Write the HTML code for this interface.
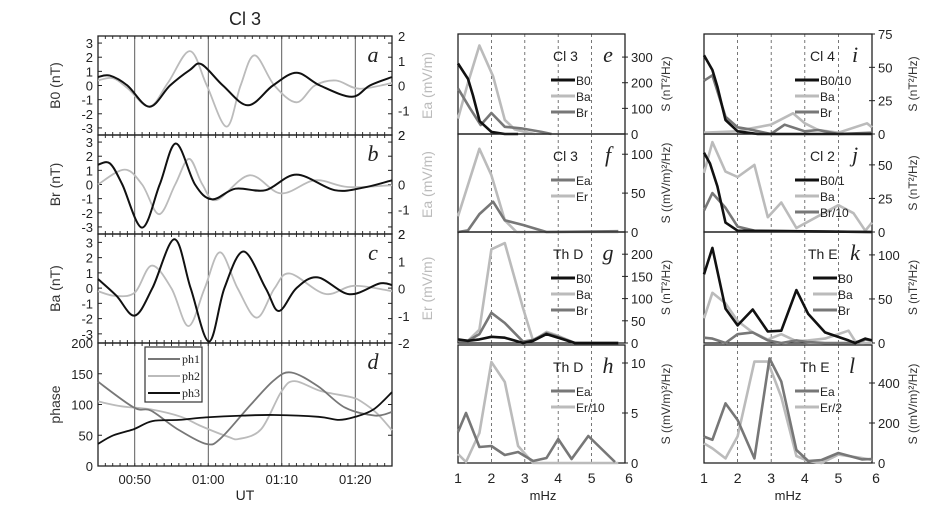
<!DOCTYPE html>
<html><head><meta charset="utf-8"><style>
body{margin:0;background:#fff}
svg{display:block;font-family:"Liberation Sans",sans-serif}
.it{font-family:"Liberation Serif",serif;font-style:italic;font-size:22px}
</style></head><body>
<svg id="fig" width="946" height="509" viewBox="0 0 946 509"></svg>
<script>
// ---- time series data (time in minutes after 00:00) ----
const tA = [45,46.6,49,52,54.8,57.5,59.1,62,65.4,68.8,72,75.2,79.5,82,85];
const b0A = [0.6,0.7,0,-1.5,0,1.1,1.5,0,-1.4,0,0.9,0,-0.8,0,0.6];
const tEaA = [45,47,49,52,54.5,57.5,59.8,62.5,64.4,66.3,69,72,74.5,77.4,80.5,85];
const eaA = [0.2,0.3,-0.1,-0.85,0.1,1.39,0,-1.66,0,1.22,0,-0.68,0,0.2,-0.13,0.1];
const tB = [45,46.6,48.3,51,53.4,55.6,58.2,60.5,63.7,67.8,72,77.2,81.3,85];
const brB = [1.4,1.5,0,-3.05,0,2.9,0,-1.05,-0.3,-0.4,0.7,-0.4,-0.2,0.3];
const tEaB = [45,48.6,51,53.3,55.5,57.4,59.2,61.1,65.6,69.9,74.5,79,85];
const eaB = [0,0.6,0,-1.2,0,1.04,0,-0.63,0.37,-0.36,0.17,-0.1,-0.03];
const tC = [45,47.5,50,52.4,55.4,57.6,60.1,62.2,64.8,67.8,69.6,72,74.9,79.2,83.3,85];
const baC = [0.6,-0.5,-1.8,0,3.2,0,-3.5,0,2.4,0,-1.5,0,0.7,-0.4,0.3,0.2];
const tErC = [45,47.3,50,52.3,55,57.3,59.5,61.6,64,66.6,69,71.1,75.9,79.8,85];
const erC = [-0.1,-0.27,-0.15,0.84,0,-1.38,0,1.33,0,-1.07,0,0.55,-0.2,0.1,-0.1];
const tPh1 = [45,49.9,52.2,55.8,59.7,61.7,65.8,69,71.3,74.9,78.6,82.7,85];
const ph1 = [137,95,90,60,36,45,100,140,152,130,95,82,88];
const tPh2 = [45,48.2,52.2,56.3,59,62.6,64.2,67.2,69.9,71.7,75.3,79.4,80.8,83,85];
const ph2 = [105,97,92,80,65,48,44,60,120,138,122,112,105,85,58];
const tPh3 = [45,47.1,49.9,52.4,56,59.7,64.7,69,75,77.8,80,82.5,85];
const ph3 = [36,50,60,73,75,79,82,83,80,75,80,92,120];
// ---- spectra (mHz, value) ----
const fE_B0=[1,1.3,1.45,1.65,2.0,2.4,2.8]; const vE_B0=[275,215,150,50,8,0,0];
const fE_Ba=[1,1.3,1.64,2.05,2.4,2.7,3.0,3.3]; const vE_Ba=[60,200,345,225,55,18,8,0];
const fE_Br=[1,1.35,1.68,2.0,2.4,2.9,3.5,3.8]; const vE_Br=[178,102,35,82,28,22,8,0];
const fF_Er=[1,1.64,2.0,2.4,2.75,3.3,5.8]; const vF_Er=[20,107,73,15,0,0,0];
const fF_Ea=[1,1.3,1.64,2.05,2.4,2.95,3.65,5.8]; const vF_Ea=[0,2,23,39,15,9,0,1];
const fG=[1,1.3,1.64,2.0,2.4,2.95,3.25,3.65,4.0,4.5,5.8];
const vG_Ba=[7,5,30,211,225,78,5,25,16,0,0];
const vG_Br=[5,5,20,68,45,3,7,22,14,0,0];
const vG_B0=[8,5,8,14,12,0,5,20,12,0,0];
const fH_Ea=[1,1.24,1.64,2.0,2.4,2.8,3.25,3.65,4.0,4.4,4.9,5.7]; const vH_Ea=[3.1,5.0,1.6,1.7,0.8,1.1,0.2,0.5,2.4,0.4,2.7,0.1];
const fH_Er=[1,1.24,1.64,2.0,2.4,2.8,3.25,5.8]; const vH_Er=[0.9,0.1,3.0,10.1,8.1,1.7,0,0];
const fI_B0=[1,1.25,1.4,1.64,2.0,2.6,6]; const vI_B0=[59,48,35.5,10.5,2,0,0];
const fI_Ba=[1,2.0,2.35,2.99,3.65,4.0,4.4,5.0,5.85,6]; const vI_Ba=[1,2,4,7,15.5,8,3,1,8,5];
const fI_Br=[1,1.25,1.64,2.0,2.35,2.99,3.4,4.0,4.4,5.0,6]; const vI_Br=[40,44,13,5,3.5,0,7,2,3,0,1];
const fJ_B0=[1,1.18,1.4,1.64,2.0,6]; const vJ_B0=[59,51,34,7,1,0];
const fJ_Ba=[1,1.25,1.64,2.0,2.5,2.9,3.3,3.75,5.0,5.45,5.8,6]; const vJ_Ba=[44,67,45,41,50,11,22,3,20,14,1,7];
const fJ_Br=[1,1.25,1.64,2.0,2.5,6]; const vJ_Br=[16,29,18,4,1,0];
const fK=[1,1.25,1.64,2.0,2.45,2.9,3.3,3.75,4.1,4.6,5.3,5.5,5.8,6];
const vK_B0=[78,108,39,20,38,13,14,60,33,12,3,0,5,3];
const vK_Ba=[28,57,45,25,12,4,10,2,3,5,14,2,0,0];
const vK_Br=[6,5,0,10,12,3,0,3,1,0,0,0,4,3];
const fL=[1,1.25,1.64,2.0,2.5,2.95,3.3,3.75,4.1,4.5,5.0,5.7,6];
const vL_Ea=[132,116,298,215,23,523,407,65,10,15,50,18,20];
const fL_Er=[1,1.25,1.64,2.0,2.5,2.9,3.3,3.75,4.1,4.5,5.0,5.7,6];
const vL_Er=[98,73,23,133,507,507,330,35,10,0,42,25,15];
const ticksTime=['00:50','01:00','01:10','01:20'];
const ticksF=['1','2','3','4','5','6'];

const NS='http://www.w3.org/2000/svg';
const svg=document.getElementById('fig');
function el(tag,attrs,parent){const e=document.createElementNS(NS,tag);for(const k in attrs)e.setAttribute(k,attrs[k]);(parent||svg).appendChild(e);return e;}
function txt(x,y,s,size,fill,anchor,rot){const e=el('text',{x:x,y:y,'font-size':size,fill:fill||'#222','text-anchor':anchor||'middle'});if(rot)e.setAttribute('transform','rotate(-90 '+x+' '+y+')');e.textContent=s;return e;}
function smooth(p){let d='M'+p[0][0].toFixed(1)+','+p[0][1].toFixed(1);for(let i=0;i<p.length-1;i++){const a=p[i-1]||p[i],b=p[i],c=p[i+1],e=p[i+2]||c;d+=' C'+(b[0]+(c[0]-a[0])/6).toFixed(1)+','+(b[1]+(c[1]-a[1])/6).toFixed(1)+' '+(c[0]-(e[0]-b[0])/6).toFixed(1)+','+(c[1]-(e[1]-b[1])/6).toFixed(1)+' '+c[0].toFixed(1)+','+c[1].toFixed(1);}return d;}
function poly(p){return 'M'+p.map(q=>q[0].toFixed(1)+','+q[1].toFixed(1)).join(' L');}

// ---- left time panels ----
const L={x0:98,x1:392,t0:45,t1:85};
const tx=t=>L.x0+(t-L.t0)/(L.t1-L.t0)*(L.x1-L.x0);
function ysc(top,bot,lo,hi){return v=>bot-(v-lo)/(hi-lo)*(bot-top);}
const panels=[
 {n:'a',top:36,bot:135,lo:-3.5,hi:3.5,rlo:-2,rhi:2,lt:['3','2','1','0','-1','-2','-3'],lv:[3,2,1,0,-1,-2,-3],rt:['2','1','0','-1','2'],rv:[2,1,0,-1,-2],yl:'B0 (nT)',ryl:'Ea (mV/m)'},
 {n:'b',top:135,bot:234,lo:-3.5,hi:3.5,rlo:-2,rhi:2,lt:['3','2','1','0','-1','-2','-3'],lv:[3,2,1,0,-1,-2,-3],rt:['1','0','-1','2'],rv:[1,0,-1,-2],yl:'Br (nT)',ryl:'Ea (mV/m)'},
 {n:'c',top:234,bot:343,lo:-3.6,hi:3.55,rlo:-2,rhi:2,lt:['3','2','1','0','-1','-2','-3'],lv:[3,2,1,0,-1,-2,-3],rt:['2','1','0','-1','-2'],rv:[2,1,0,-1,-2],yl:'Ba (nT)',ryl:'Er (mV/m)'},
 {n:'d',top:343,bot:466,lo:0,hi:200,lt:['200','150','100','50','0'],lv:[200,150,100,50,0],yl:'phase'}
];
panels.forEach(p=>{
 const g=el('g',{});
 
 
 const y=ysc(p.top,p.bot,p.lo,p.hi);
 [50,60,70,80].forEach(t=>el('line',{x1:tx(t),x2:tx(t),y1:p.top,y2:p.bot,stroke:'#333','stroke-width':0.8},g));
 for(let t=46;t<85;t++){el('line',{x1:tx(t),x2:tx(t),y1:p.top,y2:p.top+3,stroke:'#333'},g);el('line',{x1:tx(t),x2:tx(t),y1:p.bot,y2:p.bot-3,stroke:'#333'},g);}
 el('rect',{x:L.x0,y:p.top,width:L.x1-L.x0,height:p.bot-p.top,fill:'none',stroke:'#222','stroke-width':1.3},g);
 p.lv.forEach((v,i)=>{el('line',{x1:L.x0,x2:L.x0+4,y1:y(v),y2:y(v),stroke:'#222'},g);el('line',{x1:L.x1,x2:L.x1-4,y1:y(v),y2:y(v),stroke:'#222'},g);txt(93,y(v)+5,p.lt[i],13,'#222','end');});
 txt(60,(p.top+p.bot)/2,p.yl,14,'#333','middle',true);
 if(p.rt){const yr=ysc(p.top,p.bot,p.rlo,p.rhi);p.rv.forEach((v,i)=>{if(i>0||p.n!=='b')txt(398,yr(v)+5,p.rt[i],13,'#222','start');});
  if(p.n==='b')txt(398,p.top+5,'2',13,'#222','start');
  txt(432,(p.top+p.bot)/2,p.ryl,14,'#bbb','middle',true);}
 const lab=txt(373,p.top+26,p.n,22,'#222','middle');lab.setAttribute('class','it');
});
function series(ts,vs,y,color,w,name){const pth=el('path',{d:smooth(ts.map((t,i)=>[tx(t),y(vs[i])])),fill:'none',stroke:color,'stroke-width':w});}
const yA=ysc(36,135,-3.5,3.5),yAr=ysc(36,135,-2,2),yB=ysc(135,234,-3.5,3.5),yBr=ysc(135,234,-2,2),yC=ysc(234,343,-3.6,3.55),yCr=ysc(234,343,-2,2),yD=ysc(343,466,0,200);
series(tEaA,eaA,yAr,'#bbb',1.8,'ea-line-a');series(tA,b0A,yA,'#111',2,'b0-line-a');
series(tEaB,eaB,yBr,'#bbb',1.8,'ea-line-b');series(tB,brB,yB,'#111',2,'br-line-b');
series(tErC,erC,yCr,'#bbb',1.8,'er-line-c');series(tC,baC,yC,'#111',2,'ba-line-c');
series(tPh2,ph2,yD,'#bbb',1.8,'ph2-line');series(tPh1,ph1,yD,'#777',1.8,'ph1-line');series(tPh3,ph3,yD,'#111',1.8,'ph3-line');
// legend d
el('rect',{x:145,y:347,width:57,height:55,fill:'#fff',stroke:'#333','stroke-width':1.2});
[['ph1','#777'],['ph2','#bbb'],['ph3','#111']].forEach((q,i)=>{const yy=359+i*17;el('line',{x1:148,x2:180,y1:yy,y2:yy,stroke:q[1],'stroke-width':2});const t=txt(182,yy+4,q[0],12,'#222','start');t.setAttribute('font-family','Liberation Serif');});
ticksTime.forEach((s,i)=>txt(tx(50+10*i),484,s,13,'#222'));
txt(245,500,'UT',14,'#222');
const ttl=txt(245,25,'Cl 3',18,'#222');

// ---- spectra panels ----
function specPanel(cfg){
 const {x0,x1,top,bot,max,ticks,ytitle,lab,name,leg,legx,title,titlex,letterx,grid}=cfg;
 const g=el('g',{});
 
 
 const fx=f=>x0+(f-1)/5*(x1-x0), fy=v=>bot-v/max*(bot-top);
 grid.forEach(f=>el('line',{x1:fx(f),x2:fx(f),y1:top,y2:bot,stroke:'#555','stroke-width':0.8,'stroke-dasharray':'3,3'},g));
 el('rect',{x:x0,y:top,width:x1-x0,height:bot-top,fill:'none',stroke:'#222','stroke-width':1.3},g);
 ticks.forEach(v=>{el('line',{x1:x1,x2:x1+3,y1:fy(v),y2:fy(v),stroke:'#222'},g);el('line',{x1:x1,x2:x1-3,y1:fy(v),y2:fy(v),stroke:'#222'},g);txt(x1+6,fy(v)+5,String(v),13,'#222','start');});
 txt(x1+45,(top+bot)/2,ytitle,12,'#333','middle',true);
 txt(titlex,top+27,title,14,'#222','start');
 const l=txt(letterx,top+28,lab,22,'#222');l.setAttribute('class','it');
 cfg.series.forEach(s=>{const p=el('path',{d:poly(s.f.map((f,i)=>[fx(f),fy(s.v[i])])),fill:'none',stroke:s.c,'stroke-width':2.6,'stroke-linejoin':'round'},g);});
 leg.forEach((q,i)=>{const yy=top+46+i*16;el('line',{x1:legx,x2:legx+24,y1:yy,y2:yy,stroke:q[1],'stroke-width':3},g);txt(legx+25,yy+5,q[0],12,'#222','start');});
 return fx;
}
const K='#111',M='#777',Lg='#bbb';
const mg=[2,3,4,5];
let fxm=specPanel({name:'panel-e',x0:458,x1:625,top:34,bot:134,max:390,ticks:[0,100,200,300],ytitle:'S (nT²/Hz)',lab:'e',title:'Cl 3',titlex:553,letterx:608,legx:551,grid:mg,leg:[['B0',K],['Ba',Lg],['Br',M]],
 series:[{f:fE_Ba,v:vE_Ba,c:Lg,name:'e-ba'},{f:fE_Br,v:vE_Br,c:M,name:'e-br'},{f:fE_B0,v:vE_B0,c:K,name:'e-b0'}]});
specPanel({name:'panel-f',x0:458,x1:625,top:134,bot:232,max:126,ticks:[0,50,100],ytitle:'S ((mV/m)²/Hz)',lab:'f',title:'Cl 3',titlex:553,letterx:608,legx:551,grid:mg,leg:[['Ea',M],['Er',Lg]],
 series:[{f:fF_Er,v:vF_Er,c:Lg,name:'f-er'},{f:fF_Ea,v:vF_Ea,c:M,name:'f-ea'}]});
specPanel({name:'panel-g',x0:458,x1:625,top:232,bot:343,max:250,ticks:[0,50,100,150,200],ytitle:'S (nT²/Hz)',lab:'g',title:'Th D',titlex:553,letterx:608,legx:551,grid:mg,leg:[['B0',K],['Ba',Lg],['Br',M]],
 series:[{f:fG,v:vG_Ba,c:Lg,name:'g-ba'},{f:fG,v:vG_Br,c:M,name:'g-br'},{f:fG,v:vG_B0,c:K,name:'g-b0'}]});
specPanel({name:'panel-h',x0:458,x1:625,top:345,bot:463,max:11.8,ticks:[0,5,10],ytitle:'S ((mV/m)²/Hz)',lab:'h',title:'Th D',titlex:553,letterx:608,legx:551,grid:mg,leg:[['Ea',M],['Er/10',Lg]],
 series:[{f:fH_Er,v:vH_Er,c:Lg,name:'h-er'},{f:fH_Ea,v:vH_Ea,c:M,name:'h-ea'}]});
let fxr=specPanel({name:'panel-i',x0:704,x1:872,top:34,bot:134,max:75,ticks:[0,25,50,75],ytitle:'S (nT²/Hz)',lab:'i',title:'Cl 4',titlex:810,letterx:855,legx:795,grid:mg,leg:[['B0/10',K],['Ba',Lg],['Br',M]],
 series:[{f:fI_Ba,v:vI_Ba,c:Lg,name:'i-ba'},{f:fI_Br,v:vI_Br,c:M,name:'i-br'},{f:fI_B0,v:vI_B0,c:K,name:'i-b0'}]});
specPanel({name:'panel-j',x0:704,x1:872,top:134,bot:232,max:73,ticks:[0,25,50],ytitle:'S (nT²/Hz)',lab:'j',title:'Cl 2',titlex:810,letterx:855,legx:795,grid:mg,leg:[['B0/1',K],['Ba',Lg],['Br/10',M]],
 series:[{f:fJ_Ba,v:vJ_Ba,c:Lg,name:'j-ba'},{f:fJ_Br,v:vJ_Br,c:M,name:'j-br'},{f:fJ_B0,v:vJ_B0,c:K,name:'j-b0'}]});
specPanel({name:'panel-k',x0:704,x1:872,top:232,bot:343,max:126,ticks:[0,50,100],ytitle:'S (nT²/Hz)',lab:'k',title:'Th E',titlex:808,letterx:855,legx:813,grid:mg,leg:[['B0',K],['Ba',Lg],['Br',M]],
 series:[{f:fK,v:vK_Ba,c:Lg,name:'k-ba'},{f:fK,v:vK_Br,c:M,name:'k-br'},{f:fK,v:vK_B0,c:K,name:'k-b0'}]});
specPanel({name:'panel-l',x0:704,x1:872,top:345,bot:463,max:590,ticks:[0,200,400],ytitle:'S ((mV/m)²/Hz)',lab:'l',title:'Th E',titlex:800,letterx:852,legx:795,grid:mg,leg:[['Ea',M],['Er/2',Lg]],
 series:[{f:fL_Er,v:vL_Er,c:Lg,name:'l-er'},{f:fL,v:vL_Ea,c:M,name:'l-ea'}]});
ticksF.forEach((s,i)=>{txt(fxm(1+i)+(i===5?4:0),483,s,14,'#222');txt(fxr(1+i)+(i===5?4:0),483,s,14,'#222');});
txt(543,500,'mHz',13,'#222');txt(788,500,'mHz',13,'#222');
</script>
</body></html>
